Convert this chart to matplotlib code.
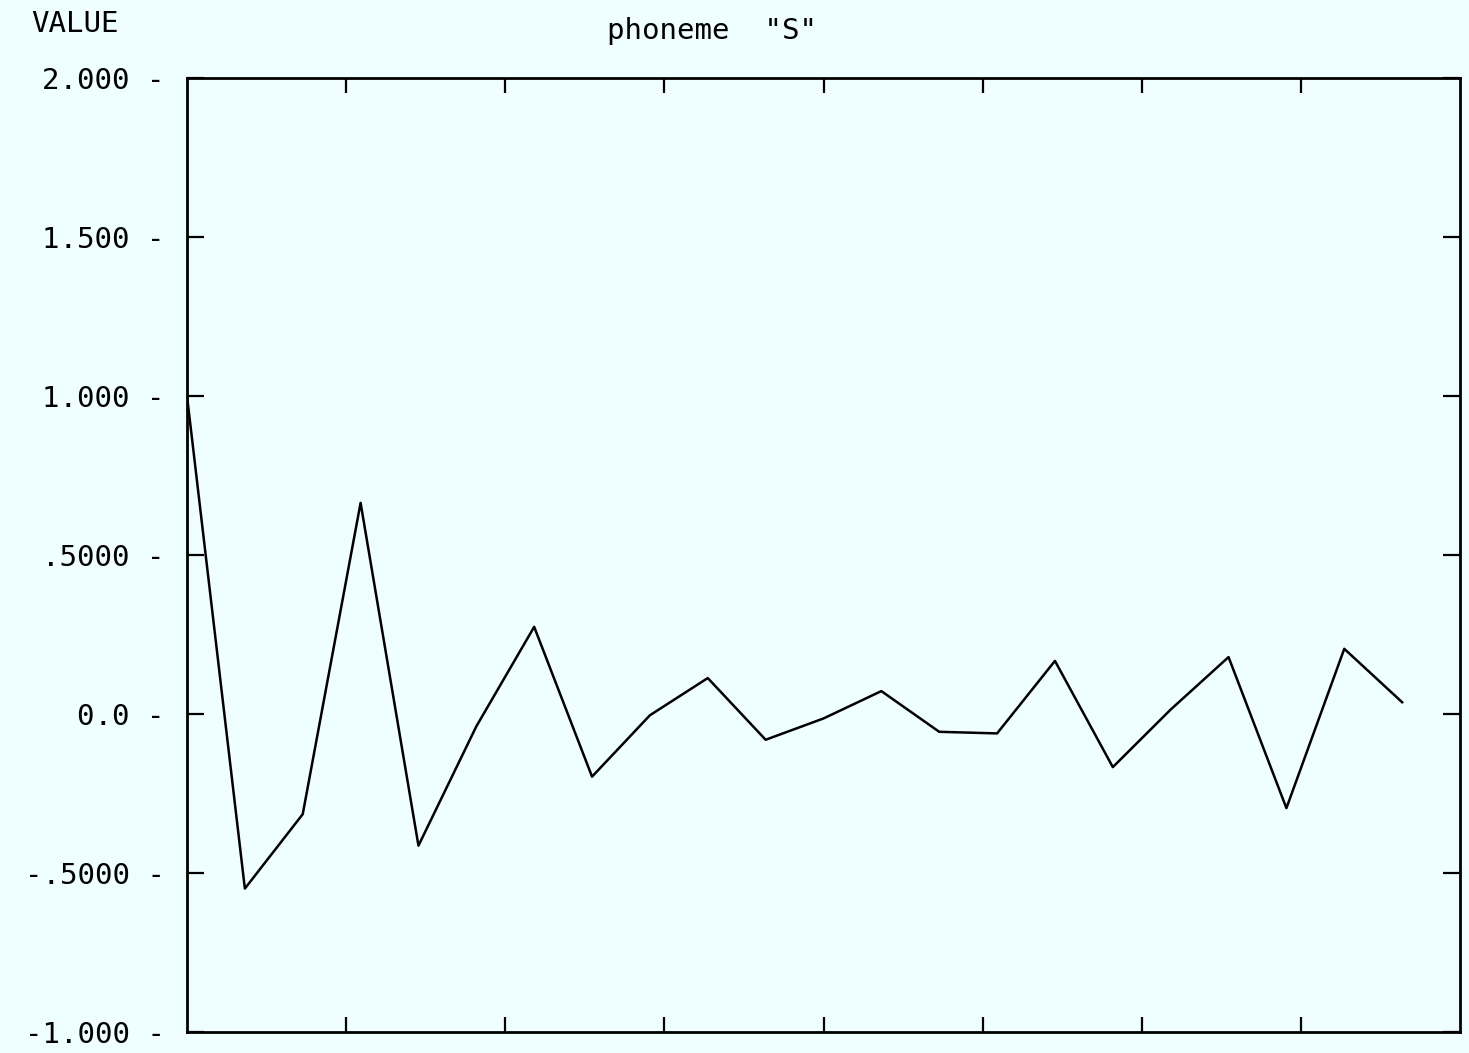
import matplotlib
matplotlib.use("Agg")
import matplotlib.pyplot as plt
import numpy as np

# values (22 samples)
values = [1.000, -0.549, -0.315, 0.664, -0.414, -0.039, 0.274, -0.197,
          -0.004, 0.113, -0.081, -0.014, 0.072, -0.056, -0.061, 0.167,
          -0.167, 0.014, 0.179, -0.296, 0.205, 0.037]
yticks = [2.0, 1.5, 1.0, 0.5, 0.0, -0.5, -1.0]
ylabels = ["2.000", "1.500", "1.000", ".5000", "0.0", "-.5000", "-1.000"]
xmax = 22
n_div = 8

bg = "#effefe"
font = "DejaVu Sans Mono"

fig = plt.figure(figsize=(14.69, 10.53), dpi=100, facecolor=bg)
ax = fig.add_axes([187/1469, 1 - 1032/1053, (1460-187)/1469, (1032-78)/1053])
ax.set_facecolor(bg)

x = np.arange(len(values))
ax.plot(x, values, color="black", lw=1.8)

ax.set_xlim(0, xmax)
ax.set_ylim(-1.0, 2.0)

ax.set_xticks([xmax / n_div * k for k in range(1, n_div)])
ax.set_xticklabels([])
ax.tick_params(axis="x", direction="in", top=True, bottom=True,
               length=11, width=1.6)

ax.set_yticks(yticks)
ax.set_yticklabels([s + " -" for s in ylabels], fontfamily=font, fontsize=21)
ax.tick_params(axis="y", direction="in", left=True, right=True,
               length=12, width=1.6, pad=16)

for sp in ax.spines.values():
    sp.set_linewidth(2.0)

fig.text(31/1469, 1 - 24/1053, "VALUE", fontfamily=font, fontsize=21,
         ha="left", va="center")
fig.text(712/1469, 1 - 31/1053, 'phoneme  "S"', fontfamily=font, fontsize=21,
         ha="center", va="center")

fig.savefig("out.png", dpi=100, facecolor=bg)
